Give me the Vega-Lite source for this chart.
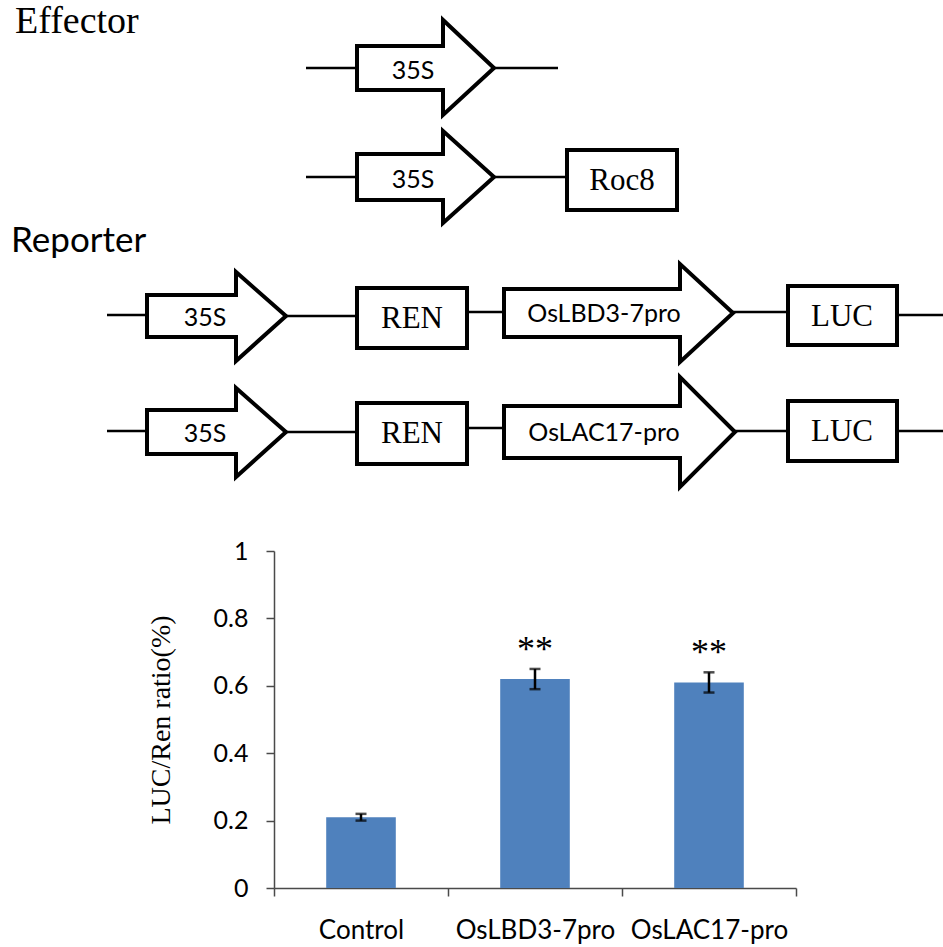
{
  "$schema": "https://vega.github.io/schema/vega-lite/v6.json",
  "width": 522,
  "height": 337,
  "autosize": {"type": "none"},
  "padding": {"left": 274, "top": 551, "right": 147, "bottom": 59},
  "background": "white",
  "config": {"view": {"stroke": null}},
  "datasets": {
    "ratios": [
      {"group": "Control", "mean": 0.21, "err": 0.01, "star": ""},
      {"group": "OsLBD3-7pro", "mean": 0.62, "err": 0.03, "star": "**"},
      {"group": "OsLAC17-pro", "mean": 0.61, "err": 0.03, "star": "**"}
    ],
    "wires": [
      {"x1": 306, "x2": 357, "y": 68},
      {"x1": 493, "x2": 558, "y": 68},
      {"x1": 306, "x2": 357, "y": 177},
      {"x1": 493, "x2": 567, "y": 177},
      {"x1": 107, "x2": 147, "y": 315},
      {"x1": 286, "x2": 357, "y": 316},
      {"x1": 467, "x2": 504, "y": 312},
      {"x1": 733, "x2": 788, "y": 312},
      {"x1": 897, "x2": 943, "y": 315},
      {"x1": 107, "x2": 147, "y": 431},
      {"x1": 286, "x2": 357, "y": 432},
      {"x1": 467, "x2": 504, "y": 428},
      {"x1": 735, "x2": 788, "y": 431},
      {"x1": 897, "x2": 943, "y": 431}
    ],
    "boxes": [
      {"name": "Roc8", "x1": 567, "x2": 677, "y1": 150, "y2": 210},
      {"name": "REN", "x1": 357, "x2": 467, "y1": 288, "y2": 348},
      {"name": "LUC", "x1": 788, "x2": 897, "y1": 286, "y2": 345},
      {"name": "REN", "x1": 357, "x2": 467, "y1": 403, "y2": 464},
      {"name": "LUC", "x1": 788, "x2": 897, "y1": 401, "y2": 461}
    ],
    "promoters": [
      {"id": "e1", "k": 0, "px": 357, "py": 68},
      {"id": "e1", "k": 1, "px": 357, "py": 46},
      {"id": "e1", "k": 2, "px": 443, "py": 46},
      {"id": "e1", "k": 3, "px": 443, "py": 20},
      {"id": "e1", "k": 4, "px": 494, "py": 68},
      {"id": "e1", "k": 5, "px": 443, "py": 115},
      {"id": "e1", "k": 6, "px": 443, "py": 90},
      {"id": "e1", "k": 7, "px": 357, "py": 90},
      {"id": "e1", "k": 8, "px": 357, "py": 68},

      {"id": "e2", "k": 0, "px": 357, "py": 177},
      {"id": "e2", "k": 1, "px": 357, "py": 154},
      {"id": "e2", "k": 2, "px": 443, "py": 154},
      {"id": "e2", "k": 3, "px": 443, "py": 131},
      {"id": "e2", "k": 4, "px": 494, "py": 177},
      {"id": "e2", "k": 5, "px": 443, "py": 223},
      {"id": "e2", "k": 6, "px": 443, "py": 200},
      {"id": "e2", "k": 7, "px": 357, "py": 200},
      {"id": "e2", "k": 8, "px": 357, "py": 177},

      {"id": "r1a", "k": 0, "px": 147, "py": 316},
      {"id": "r1a", "k": 1, "px": 147, "py": 295},
      {"id": "r1a", "k": 2, "px": 236, "py": 295},
      {"id": "r1a", "k": 3, "px": 236, "py": 272},
      {"id": "r1a", "k": 4, "px": 286, "py": 316},
      {"id": "r1a", "k": 5, "px": 236, "py": 361},
      {"id": "r1a", "k": 6, "px": 236, "py": 337},
      {"id": "r1a", "k": 7, "px": 147, "py": 337},
      {"id": "r1a", "k": 8, "px": 147, "py": 316},

      {"id": "r1b", "k": 0, "px": 504, "py": 313},
      {"id": "r1b", "k": 1, "px": 504, "py": 289},
      {"id": "r1b", "k": 2, "px": 680, "py": 289},
      {"id": "r1b", "k": 3, "px": 680, "py": 264},
      {"id": "r1b", "k": 4, "px": 733, "py": 313},
      {"id": "r1b", "k": 5, "px": 680, "py": 362},
      {"id": "r1b", "k": 6, "px": 680, "py": 337},
      {"id": "r1b", "k": 7, "px": 504, "py": 337},
      {"id": "r1b", "k": 8, "px": 504, "py": 313},

      {"id": "r2a", "k": 0, "px": 147, "py": 432},
      {"id": "r2a", "k": 1, "px": 147, "py": 410},
      {"id": "r2a", "k": 2, "px": 236, "py": 410},
      {"id": "r2a", "k": 3, "px": 236, "py": 388},
      {"id": "r2a", "k": 4, "px": 286, "py": 432},
      {"id": "r2a", "k": 5, "px": 236, "py": 477},
      {"id": "r2a", "k": 6, "px": 236, "py": 454},
      {"id": "r2a", "k": 7, "px": 147, "py": 454},
      {"id": "r2a", "k": 8, "px": 147, "py": 432},

      {"id": "r2b", "k": 0, "px": 504, "py": 432},
      {"id": "r2b", "k": 1, "px": 504, "py": 406},
      {"id": "r2b", "k": 2, "px": 680, "py": 406},
      {"id": "r2b", "k": 3, "px": 680, "py": 377},
      {"id": "r2b", "k": 4, "px": 735, "py": 432},
      {"id": "r2b", "k": 5, "px": 680, "py": 487},
      {"id": "r2b", "k": 6, "px": 680, "py": 458},
      {"id": "r2b", "k": 7, "px": 504, "py": 458},
      {"id": "r2b", "k": 8, "px": 504, "py": 432}
    ],
    "labels": [
      {"text": "Effector", "px": 15, "py": 33, "role": "heading-serif"},
      {"text": "Reporter", "px": 11, "py": 252, "role": "heading-sans"},
      {"text": "Roc8", "px": 622, "py": 181, "role": "box"},
      {"text": "REN", "px": 412, "py": 319, "role": "box"},
      {"text": "LUC", "px": 842, "py": 317, "role": "box"},
      {"text": "REN", "px": 412, "py": 434, "role": "box"},
      {"text": "LUC", "px": 842, "py": 432, "role": "box"},
      {"text": "35S", "px": 413, "py": 71, "role": "arrow"},
      {"text": "35S", "px": 413, "py": 180, "role": "arrow"},
      {"text": "35S", "px": 205, "py": 318, "role": "arrow"},
      {"text": "35S", "px": 205, "py": 434, "role": "arrow"},
      {"text": "OsLBD3-7pro", "px": 604, "py": 314, "role": "arrow"},
      {"text": "OsLAC17-pro", "px": 604, "py": 433, "role": "arrow"}
    ]
  },
  "layer": [
    {
      "data": {"name": "ratios"},
      "encoding": {
        "x": {
          "field": "group",
          "type": "nominal",
          "sort": null,
          "scale": {"type": "band", "domain": ["Control", "OsLBD3-7pro", "OsLAC17-pro"], "paddingInner": 0, "paddingOuter": 0},
          "axis": {
            "title": null,
            "labelAngle": 0,
            "labelFont": "Lato",
            "labelFontSize": 26,
            "labelColor": "black",
            "labelPadding": 21,
            "tickBand": "extent",
            "tickSize": 8,
            "tickColor": "#4a4a4a",
            "tickWidth": 1.5,
            "domainColor": "#4a4a4a",
            "domainWidth": 1.5,
            "grid": false
          }
        },
        "y": {
          "field": "mean",
          "type": "quantitative",
          "scale": {"domain": [0, 1], "nice": false},
          "axis": {
            "title": "LUC/Ren ratio(%)",
            "titleFont": "Liberation Serif",
            "titleFontSize": 28,
            "titleFontWeight": "normal",
            "titleColor": "black",
            "titlePadding": 38,
            "values": [0, 0.2, 0.4, 0.6, 0.8, 1],
            "format": "~g",
            "labelFont": "Lato",
            "labelFontSize": 25,
            "labelColor": "black",
            "labelPadding": 18,
            "tickSize": 8,
            "tickColor": "#4a4a4a",
            "tickWidth": 1.5,
            "domainColor": "#4a4a4a",
            "domainWidth": 1.5,
            "grid": false
          }
        }
      },
      "layer": [
        {"mark": {"type": "bar", "color": "#4F81BD", "width": {"band": 0.4}}},
        {
          "mark": {"type": "errorbar", "color": "black", "thickness": 2.5, "ticks": {"size": 11, "thickness": 2.5, "color": "black"}},
          "encoding": {"yError": {"field": "err"}}
        },
        {
          "mark": {"type": "text", "font": "Liberation Serif", "fontSize": 36, "baseline": "alphabetic", "dy": -18, "color": "black"},
          "encoding": {"text": {"field": "star"}}
        }
      ]
    },
    {
      "layer": [
        {
          "data": {"name": "wires"},
          "mark": {"type": "rule", "color": "black", "strokeWidth": 2.5},
          "encoding": {
            "x": {"field": "x1", "type": "quantitative", "scale": {"domain": [0, 943], "range": [-274, 669], "nice": false, "zero": false}, "axis": null},
            "x2": {"field": "x2"},
            "y": {"field": "y", "type": "quantitative", "scale": {"domain": [0, 947], "range": [-551, 396], "nice": false, "zero": false}, "axis": null}
          }
        },
        {
          "data": {"name": "boxes"},
          "mark": {"type": "rect", "fill": "white", "stroke": "black", "strokeWidth": 4},
          "encoding": {
            "x": {"field": "x1", "type": "quantitative", "scale": {"domain": [0, 943], "range": [-274, 669], "nice": false, "zero": false}, "axis": null},
            "x2": {"field": "x2"},
            "y": {"field": "y1", "type": "quantitative", "scale": {"domain": [0, 947], "range": [-551, 396], "nice": false, "zero": false}, "axis": null},
            "y2": {"field": "y2"}
          }
        },
        {
          "data": {"name": "promoters"},
          "mark": {"type": "line", "color": "black", "strokeWidth": 4, "strokeJoin": "miter", "strokeMiterLimit": 10},
          "encoding": {
            "x": {"field": "px", "type": "quantitative", "scale": {"domain": [0, 943], "range": [-274, 669], "nice": false, "zero": false}, "axis": null},
            "y": {"field": "py", "type": "quantitative", "scale": {"domain": [0, 947], "range": [-551, 396], "nice": false, "zero": false}, "axis": null},
            "detail": {"field": "id"},
            "order": {"field": "k", "type": "quantitative"}
          }
        },
        {
          "data": {"name": "labels"},
          "transform": [{"filter": "datum.role === 'heading-serif'"}],
          "mark": {"type": "text", "font": "Liberation Serif", "fontSize": 38, "align": "left", "baseline": "alphabetic", "color": "black"},
          "encoding": {
            "x": {"field": "px", "type": "quantitative", "scale": {"domain": [0, 943], "range": [-274, 669], "nice": false, "zero": false}, "axis": null},
            "y": {"field": "py", "type": "quantitative", "scale": {"domain": [0, 947], "range": [-551, 396], "nice": false, "zero": false}, "axis": null},
            "text": {"field": "text"}
          }
        },
        {
          "data": {"name": "labels"},
          "transform": [{"filter": "datum.role === 'heading-sans'"}],
          "mark": {"type": "text", "font": "Lato", "fontSize": 35, "align": "left", "baseline": "alphabetic", "color": "black"},
          "encoding": {
            "x": {"field": "px", "type": "quantitative", "scale": {"domain": [0, 943], "range": [-274, 669], "nice": false, "zero": false}, "axis": null},
            "y": {"field": "py", "type": "quantitative", "scale": {"domain": [0, 947], "range": [-551, 396], "nice": false, "zero": false}, "axis": null},
            "text": {"field": "text"}
          }
        },
        {
          "data": {"name": "labels"},
          "transform": [{"filter": "datum.role === 'box'"}],
          "mark": {"type": "text", "font": "Liberation Serif", "fontSize": 31, "align": "center", "baseline": "middle", "color": "black"},
          "encoding": {
            "x": {"field": "px", "type": "quantitative", "scale": {"domain": [0, 943], "range": [-274, 669], "nice": false, "zero": false}, "axis": null},
            "y": {"field": "py", "type": "quantitative", "scale": {"domain": [0, 947], "range": [-551, 396], "nice": false, "zero": false}, "axis": null},
            "text": {"field": "text"}
          }
        },
        {
          "data": {"name": "labels"},
          "transform": [{"filter": "datum.role === 'arrow'"}],
          "mark": {"type": "text", "font": "Lato", "fontSize": 25, "align": "center", "baseline": "middle", "color": "black"},
          "encoding": {
            "x": {"field": "px", "type": "quantitative", "scale": {"domain": [0, 943], "range": [-274, 669], "nice": false, "zero": false}, "axis": null},
            "y": {"field": "py", "type": "quantitative", "scale": {"domain": [0, 947], "range": [-551, 396], "nice": false, "zero": false}, "axis": null},
            "text": {"field": "text"}
          }
        }
      ]
    }
  ],
  "resolve": {"scale": {"x": "independent", "y": "independent"}}
}
